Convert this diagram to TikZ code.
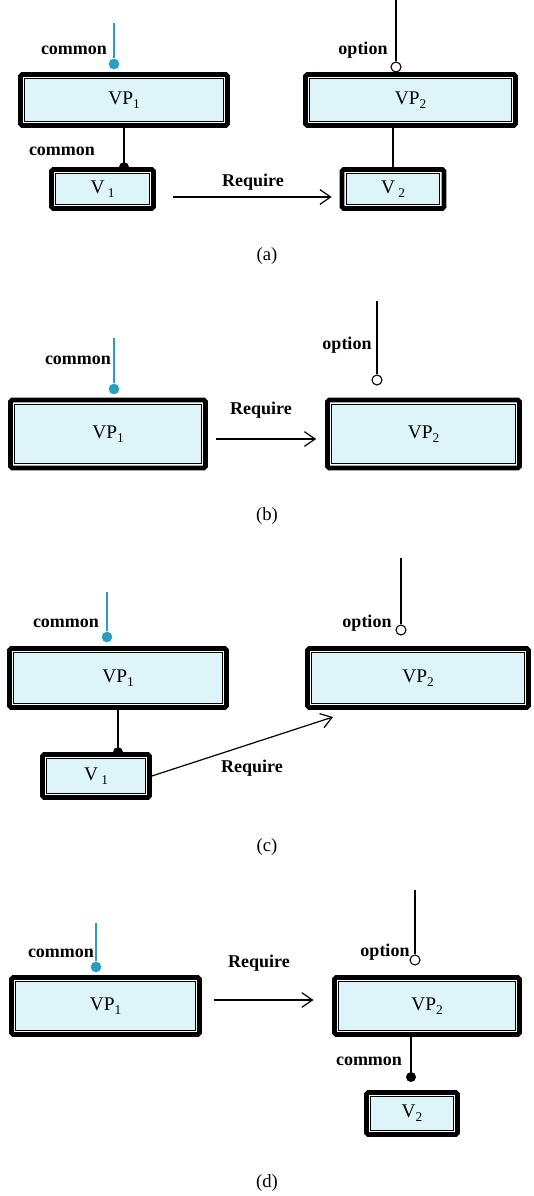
\documentclass[tikz,border=0pt]{standalone}
\usepackage{fontspec}
\setmainfont{Liberation Serif}
\usetikzlibrary{arrows.meta, backgrounds, calc, positioning}
\definecolor{boxfill}{RGB}{221,244,249}
\definecolor{cblue}{RGB}{42,158,193}
\newcommand{\idx}[1]{\raisebox{-0.45ex}{\fontsize{10}{12}\selectfont#1}}
\tikzstyle{vpbox}=[shape=rectangle, draw=black, line width=3.5pt, fill=boxfill, rounded corners=1.2pt, inner sep=0pt, font=\fontsize{14.5}{16}\selectfont,
  path picture={
    \draw[white, line width=1pt, sharp corners] ([shift={(2.3pt,-2.3pt)}]path picture bounding box.north west) rectangle ([shift={(-2.3pt,2.3pt)}]path picture bounding box.south east);
    \draw[black, line width=0.7pt, sharp corners] ([shift={(3.2pt,-3.2pt)}]path picture bounding box.north west) rectangle ([shift={(-3.2pt,3.2pt)}]path picture bounding box.south east);}]
\tikzstyle{lbl}=[font=\fontsize{13.5}{15}\selectfont\bfseries, inner sep=0pt]
\tikzstyle{captxt}=[font=\fontsize{14}{16}\selectfont, inner sep=0pt]
\tikzstyle{cdot}=[shape=circle, fill=cblue, inner sep=0pt, minimum size=8pt]
\tikzstyle{bdot}=[shape=circle, fill=black, inner sep=0pt, minimum size=7.5pt]
\tikzstyle{odot}=[shape=circle, draw=black, fill=white, line width=0.8pt, inner sep=0pt, minimum size=7.5pt]
\tikzstyle{cline}=[cblue, line width=1.1pt]
\tikzstyle{oline}=[black, line width=0.9pt]
\tikzstyle{req}=[black, line width=0.9pt, -{Straight Barb[length=8pt,width=11pt]}]

\begin{document}
\begin{tikzpicture}[x=0.75pt, y=-0.75pt]
\useasboundingbox (0,0) rectangle (534,1196);
%(a)
\node[vpbox, minimum width=155.25pt, minimum height=38.25pt] (vp1a) at (124,100) {VP\idx{1}};
\node[vpbox, minimum width=157.5pt, minimum height=38.25pt] (vp2a) at (410.5,100) {VP\idx{2}};
\node[vpbox, minimum width=76.5pt, minimum height=29.25pt] (v1a) at (102.5,189) {V\,\idx{1}};
\node[vpbox, minimum width=76.5pt, minimum height=29.25pt] (v2a) at (393,189) {V\,\idx{2}};
\node[lbl] (c1a) at (74,50) {common};
\node[lbl] (o2a) at (363,50) {option};
\node[lbl] (c3a) at (62,151) {common};
\node[lbl] (ra) at (253,182) {Require};
%(b)
\node[vpbox, minimum width=146.25pt, minimum height=51pt] (vp1b) at (108,434) {VP\idx{1}};
\node[vpbox, minimum width=144pt, minimum height=51pt] (vp2b) at (423.5,434) {VP\idx{2}};
\node[lbl] (c1b) at (78,360) {common};
\node[lbl] (o2b) at (347,345) {option};
\node[lbl] (rb) at (261,410) {Require};
%(c)
\node[vpbox, minimum width=162.75pt, minimum height=44.25pt] (vp1c) at (118,678) {VP\idx{1}};
\node[vpbox, minimum width=165.75pt, minimum height=44.25pt] (vp2c) at (418,678) {VP\idx{2}};
\node[vpbox, minimum width=80.25pt, minimum height=32.25pt] (v1c) at (96,776) {V\,\idx{1}};
\node[lbl] (c1c) at (66,623) {common};
\node[lbl] (o2c) at (367,623) {option};
\node[lbl] (rc) at (252,768) {Require};
%(d)
\node[vpbox, minimum width=141pt, minimum height=42.75pt] (vp1d) at (105.5,1006) {VP\idx{1}};
\node[vpbox, minimum width=138.75pt, minimum height=42.75pt] (vp2d) at (427,1006) {VP\idx{2}};
\node[vpbox, minimum width=68.25pt, minimum height=31.5pt] (v2d) at (412,1113.5) {V\idx{2}};
\node[lbl] (c1d) at (61,953) {common};
\node[lbl] (o2d) at (385,952) {option};
\node[lbl] (c3d) at (369,1061) {common};
\node[lbl] (rd) at (259,963) {Require};
\foreach \c/\y in {a/256,b/516,c/847,d/1183}{
  \node[captxt] (cap\c) at (267,\y) {(\c)};
}
\begin{pgfonlayer}{background}
%(a)
\coordinate (ta) at (114,23); \node[cdot] (da) at (114,64){};
\coordinate (sa) at (396,0); \node[odot] (pa) at (396,67){};
\node[bdot] (ea) at (vp1a.south |- v1a.north){};
\draw[cline] (ta) -- (da);
\draw[oline] (sa) -- (pa);
\draw[oline] (vp1a.south) -- (ea.center);
\draw[oline] (v2a.north |- vp2a.south) -- (v2a.north);
\draw[req, shorten <=12.75pt, shorten >=6pt] ([yshift=-6pt]v1a.east) -- ([yshift=-6pt]v2a.west);
%(b)
\coordinate (tb) at (114,338); \node[cdot] (db) at (114,389){};
\coordinate (sb) at (377,301); \node[odot] (pb) at (377,380){};
\draw[cline] (tb) -- (db);
\draw[oline] (sb) -- (pb);
\draw[req, shorten <=6pt, shorten >=6.75pt] ([yshift=-3.75pt]vp1b.east) -- ([yshift=-3.75pt]vp2b.west);
%(c)
\coordinate (tc) at (107,592); \node[cdot] (dc) at (107,637){};
\coordinate (sc) at (401,558); \node[odot] (pc) at (401,630){};
\node[bdot] (ec) at (vp1c.south |- v1c.north){};
\coordinate (qc) at (333,717);
\draw[cline] (tc) -- (dc);
\draw[oline] (sc) -- (pc);
\draw[oline] (vp1c.south) -- (ec.center);
\draw[req] (v1c.east) -- (qc);
%(d)
\coordinate (td) at (96,923); \node[cdot] (dd) at (96,967){};
\coordinate (sd) at (415,890); \node[odot] (pd) at (415,960){};
\node[bdot] (ed) at (411,1077){};
\draw[cline] (td) -- (dd);
\draw[oline] (sd) -- (pd);
\draw[oline] (vp2d.south -| ed) -- (ed);
\draw[req, shorten <=9pt, shorten >=14pt] ([yshift=4.5pt]vp1d.east) -- ([yshift=4.5pt]vp2d.west);
\end{pgfonlayer}
\end{tikzpicture}
\end{document}
